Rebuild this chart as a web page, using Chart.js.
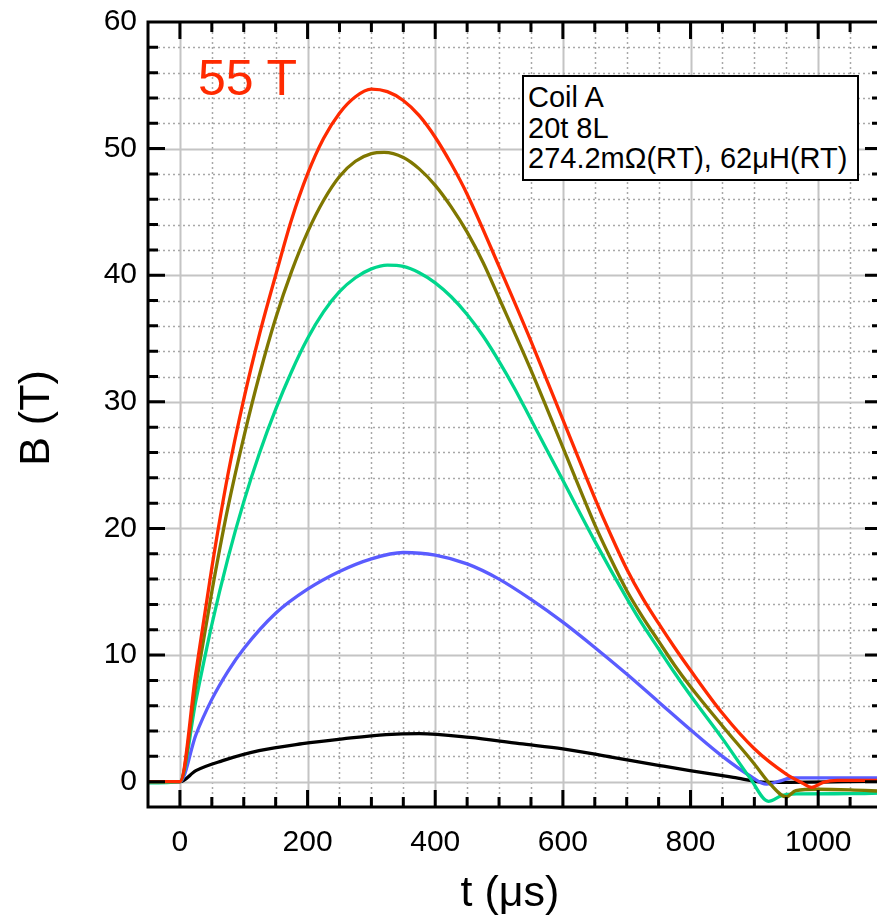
<!DOCTYPE html>
<html>
<head>
<meta charset="utf-8">
<script src="https://cdn.jsdelivr.net/npm/chart.js@4.4.1/dist/chart.umd.min.js"></script>
<style>
  body { margin: 0; background: #fff; }
  #wrap { position: relative; width: 877px; height: 917px; overflow: hidden; background: #fff; }
  #holder { position: absolute; left: 0; top: 0; width: 890px; height: 917px; }
  #peak {
    position: absolute; left: 198px; top: 53px;
    font: 50px/50px "Liberation Sans", Arial, sans-serif; color: #ff2a00;
  }
  #info {
    position: absolute; left: 522px; top: 75px; width: 337px; height: 106px;
    border: 2px solid #000; background: #fff; padding: 5px 0 0 4px; box-sizing: border-box;
    font: 29px/30.5px "Liberation Sans", Arial, sans-serif; color: #000; white-space: nowrap;
  }
</style>
</head>
<body>
<div id="wrap">
  <div id="holder"><canvas id="pulseChart"></canvas></div>
  <div id="peak">55 T</div>
  <div id="info">Coil A<br>20t 8L<br>274.2mΩ(RT), 62μH(RT)</div>
</div>
<script>
// field pulses, t in microseconds, B in tesla
const redT = [-50, 0, 25, 50, 75, 100, 125, 150, 175, 200, 225, 250, 275, 300, 325, 350, 375, 400, 425, 450, 500, 550, 600, 650, 675, 700, 725, 750, 775, 800, 850, 900, 950, 975, 990, 1008, 1030, 1100];
const redB = [0, 0, 8.6, 16.9, 24.2, 30.2, 35.4, 40.0, 44.4, 48.0, 50.8, 52.8, 54.1, 54.7, 54.5, 53.8, 52.6, 50.9, 48.8, 46.4, 40.7, 34.8, 28.6, 22.4, 19.5, 16.8, 14.5, 12.5, 10.6, 8.8, 5.4, 2.6, 0.6, -0.1, -0.45, -0.05, 0.1, 0.1];

const oliveT = [-50, 0, 25, 50, 75, 100, 125, 150, 175, 200, 225, 250, 275, 300, 320, 350, 375, 400, 425, 450, 475, 500, 550, 600, 650, 675, 700, 725, 750, 775, 800, 850, 900, 925, 950, 965, 1000, 1050, 1100];
const oliveB = [0, 0, 7.6, 15.0, 21.6, 27.2, 32.2, 36.6, 40.3, 43.4, 45.9, 47.8, 49.0, 49.6, 49.7, 49.3, 48.4, 47.1, 45.4, 43.4, 41.0, 38.2, 32.5, 26.4, 20.3, 17.6, 15.1, 13.0, 11.1, 9.2, 7.5, 4.4, 1.4, -0.2, -1.2, -0.7, -0.6, -0.65, -0.75];

const greenT = [-50, 0, 25, 50, 75, 100, 125, 150, 175, 200, 225, 250, 275, 300, 325, 350, 375, 400, 425, 450, 475, 500, 525, 550, 575, 600, 650, 700, 725, 750, 775, 800, 850, 893, 922, 943, 966, 1050, 1100];
const greenB = [-0.1, 0, 6.4, 12.4, 17.6, 22.1, 26.0, 29.4, 32.4, 35.0, 37.1, 38.7, 39.8, 40.5, 40.8, 40.7, 40.2, 39.4, 38.3, 36.9, 35.2, 33.2, 31.0, 28.6, 26.2, 23.8, 19.0, 14.5, 12.4, 10.5, 8.6, 6.8, 3.4, 0.3, -1.55, -1.1, -0.97, -0.95, -0.9];

const blueT = [-50, 0, 25, 50, 75, 100, 150, 200, 250, 300, 350, 400, 450, 500, 550, 600, 650, 700, 750, 800, 850, 893, 919, 945, 960, 1100];
const blueB = [0, 0, 3.7, 6.5, 8.7, 10.5, 13.3, 15.2, 16.6, 17.6, 18.1, 17.9, 17.2, 16.0, 14.4, 12.6, 10.6, 8.5, 6.3, 4.1, 2.0, 0.47, -0.2, 0.13, 0.3, 0.3];

const blackT = [-50, 0, 25, 67, 124, 192, 255, 323, 375, 454, 532, 600, 678, 752, 799, 867, 919, 1100];
const blackB = [0, 0, 0.87, 1.66, 2.45, 3.0, 3.38, 3.72, 3.8, 3.5, 3.0, 2.6, 1.92, 1.27, 0.87, 0.34, -0.05, 0.05];

const xMin = -50, xMax = 1100, xStep = 50, xMajor = 200;
const yMin = -2, yMax = 60, yStep = 2, yMajor = 10;

const FONT = '"Liberation Sans", Arial, sans-serif';

function toPoints(ts, bs) {
    return ts.map((t, i) => ({ x: t, y: bs[i] }));
}

function trace(label, ts, bs, color) {
    return {
        label: label,
        data: toPoints(ts, bs),
        borderColor: color,
        borderWidth: 3.3,
        pointRadius: 0,
        fill: false,
        cubicInterpolationMode: 'monotone'
    };
}

function setGridStyle(ctx, major) {
    if (major) {
        ctx.strokeStyle = '#c4c4c4';
        ctx.lineWidth = 2;
        ctx.setLineDash([]);
    } else {
        ctx.strokeStyle = '#a8a8a8';
        ctx.lineWidth = 1.5;
        ctx.setLineDash([2, 3]);
    }
}

// grid lines, inward ticks and the box round the plot, like the original graph
const frameAxes = {
    id: 'frameAxes',
    beforeDatasetsDraw(chart) {
        const { ctx, chartArea: a, scales: { x, y } } = chart;
        ctx.save();
        x.ticks.forEach(tick => {
            if (tick.value <= xMin || tick.value >= xMax) return;
            const px = Math.round(x.getPixelForValue(tick.value)) + 0.5;
            setGridStyle(ctx, tick.value % xMajor === 0);
            ctx.beginPath();
            ctx.moveTo(px, a.top);
            ctx.lineTo(px, a.bottom);
            ctx.stroke();
        });
        y.ticks.forEach(tick => {
            if (tick.value <= yMin || tick.value >= yMax) return;
            const py = Math.round(y.getPixelForValue(tick.value)) + 0.5;
            setGridStyle(ctx, tick.value % yMajor === 0);
            ctx.beginPath();
            ctx.moveTo(a.left, py);
            ctx.lineTo(a.right, py);
            ctx.stroke();
        });
        ctx.restore();
    },
    afterDraw(chart) {
        const { ctx, chartArea: a, scales: { x, y } } = chart;
        ctx.save();
        ctx.strokeStyle = '#000';
        ctx.lineWidth = 3;
        ctx.setLineDash([]);
        ctx.strokeRect(a.left, a.top, a.right - a.left, a.bottom - a.top);

        x.ticks.forEach(tick => {
            if (tick.value <= xMin || tick.value >= xMax) return;
            const px = x.getPixelForValue(tick.value);
            const len = tick.value % xMajor === 0 ? 17 : 10;
            ctx.beginPath();
            ctx.moveTo(px, a.bottom);
            ctx.lineTo(px, a.bottom - len);
            ctx.moveTo(px, a.top);
            ctx.lineTo(px, a.top + len);
            ctx.stroke();
        });
        y.ticks.forEach(tick => {
            if (tick.value <= yMin || tick.value >= yMax) return;
            const py = y.getPixelForValue(tick.value);
            const len = tick.value % yMajor === 0 ? 17 : 10;
            ctx.beginPath();
            ctx.moveTo(a.left, py);
            ctx.lineTo(a.left + len, py);
            ctx.moveTo(a.right, py);
            ctx.lineTo(a.right - len, py);
            ctx.stroke();
        });

        // axis titles
        ctx.fillStyle = '#000';
        ctx.font = '43px ' + FONT;
        ctx.textAlign = 'center';
        ctx.textBaseline = 'alphabetic';
        ctx.fillText('t (μs)', 510, 906);
        ctx.translate(49, 418);
        ctx.rotate(-Math.PI / 2);
        ctx.fillText('B (T)', 0, 0);
        ctx.restore();
    }
};

// stop the tick labels from pushing the plot area around
function noLabelPadding(scale) {
    scale.paddingTop = 0;
    scale.paddingBottom = 0;
    scale.paddingLeft = 0;
    scale.paddingRight = 0;
}

function drawPulseChart() {
    const ctx = document.getElementById('pulseChart').getContext('2d');
    new Chart(ctx, {
        type: 'line',
        data: {
            datasets: [
                trace('55 T', redT, redB, '#ff2a00'),
                trace('50 T', oliveT, oliveB, '#7f7700'),
                trace('41 T', greenT, greenB, '#00d68c'),
                trace('18 T', blueT, blueB, '#5a5cff'),
                trace('4 T', blackT, blackB, '#000000')
            ]
        },
        options: {
            animation: false,
            responsive: true,
            maintainAspectRatio: false,
            layout: { padding: { top: 22, right: 8, left: 0, bottom: 0 } },
            plugins: {
                legend: { display: false },
                tooltip: { enabled: false }
            },
            scales: {
                x: {
                    type: 'linear',
                    min: xMin,
                    max: xMax,
                    grid: { display: false, drawTicks: false },
                    border: { display: false },
                    ticks: {
                        stepSize: xStep,
                        autoSkip: false,
                        maxRotation: 0,
                        padding: 18,
                        color: '#000',
                        font: { size: 30, family: FONT },
                        callback: v => (v % xMajor === 0 ? v : '')
                    },
                    afterFit: scale => { scale.height = 110; noLabelPadding(scale); }
                },
                y: {
                    type: 'linear',
                    min: yMin,
                    max: yMax,
                    grid: { display: false, drawTicks: false },
                    border: { display: false },
                    ticks: {
                        stepSize: yStep,
                        autoSkip: false,
                        padding: 11,
                        color: '#000',
                        font: { size: 30, family: FONT },
                        callback: v => (v % yMajor === 0 ? v : '')
                    },
                    afterFit: scale => { scale.width = 148; noLabelPadding(scale); }
                }
            }
        },
        plugins: [frameAxes]
    });
}

document.addEventListener('DOMContentLoaded', drawPulseChart);
</script>
</body>
</html>
